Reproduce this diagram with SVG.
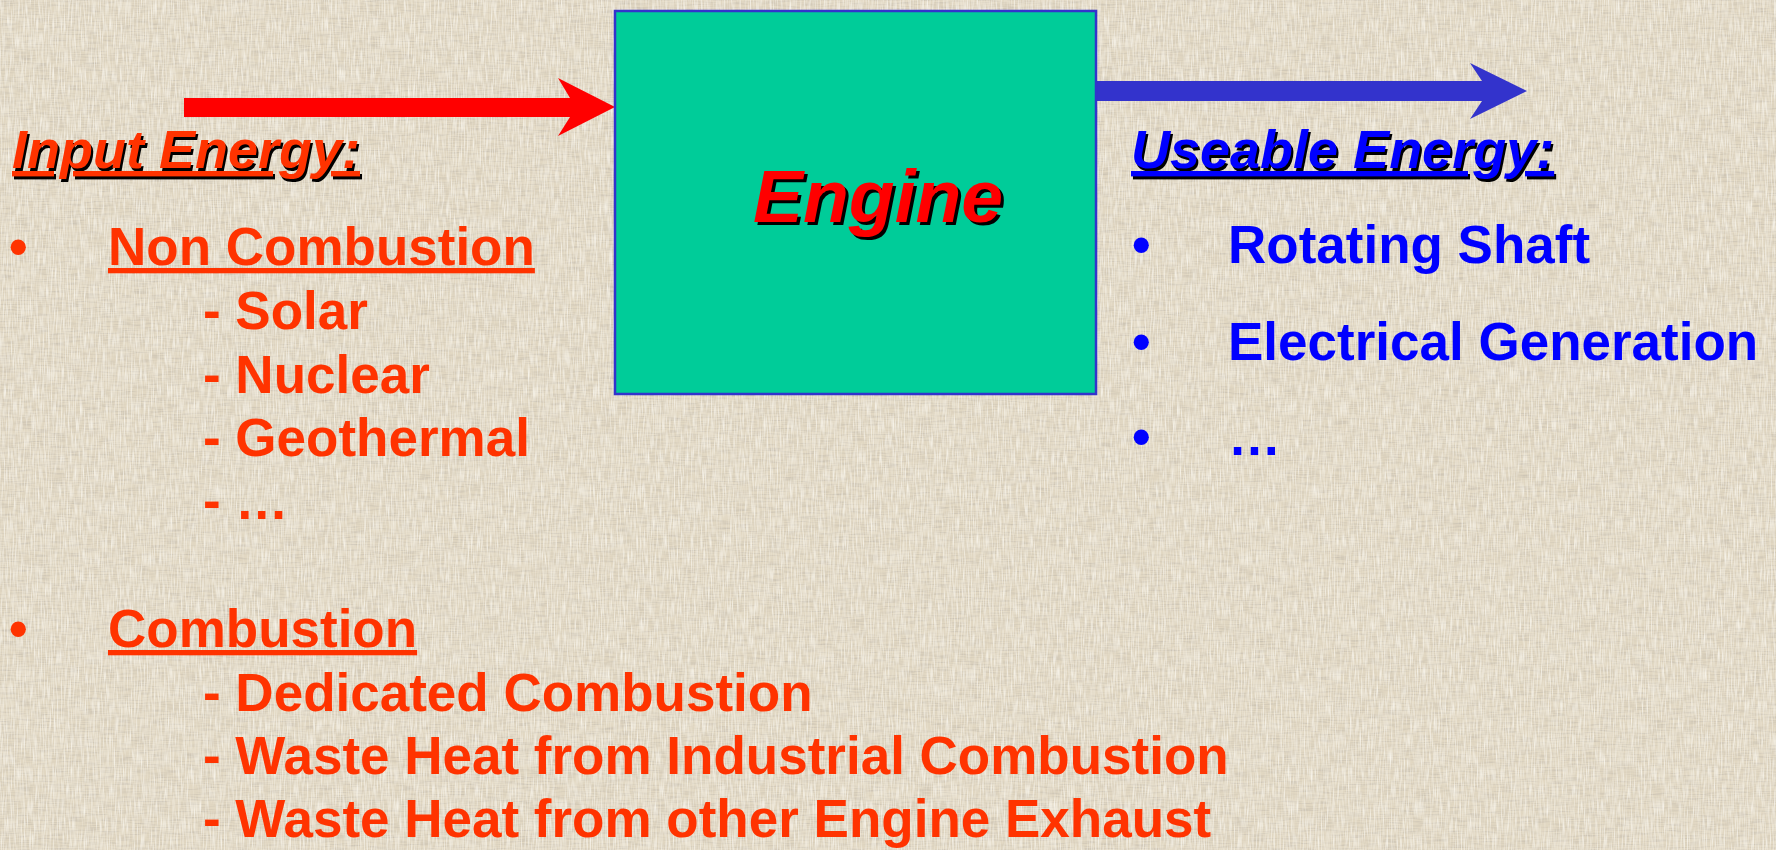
<svg xmlns="http://www.w3.org/2000/svg" width="1776" height="850" viewBox="0 0 1776 850">
  <defs>
    <style>
      text { font-family: "Liberation Sans", Arial, sans-serif; font-weight: bold; }
      .body { font-size: 53px; }
      .head { font-size: 54px; font-style: italic; text-decoration: underline; }
      .red { fill: #FF3300; }
      .blue { fill: #0000FF; }
      .shadow { fill: #000000; }
    </style>
    <!-- woven canvas texture: short horizontal and vertical threads -->
    <filter id="weaveH" x="0" y="0" width="100%" height="100%">
      <feTurbulence type="fractalNoise" baseFrequency="0.06 0.7" numOctaves="2" seed="3"/>
      <feColorMatrix type="matrix" values="0 0 0 0 0.55  0 0 0 0 0.50  0 0 0 0 0.42  0 0 0 1.5 -0.62"/>
    </filter>
    <filter id="weaveV" x="0" y="0" width="100%" height="100%">
      <feTurbulence type="fractalNoise" baseFrequency="0.7 0.06" numOctaves="2" seed="7"/>
      <feColorMatrix type="matrix" values="0 0 0 0 0.97  0 0 0 0 0.95  0 0 0 0 0.89  0 0 0 1.5 -0.55"/>
    </filter>
  </defs>

  <!-- background -->
  <rect width="1776" height="850" fill="#E1D7C2"/>
  <rect width="1776" height="850" filter="url(#weaveH)"/>
  <rect width="1776" height="850" filter="url(#weaveV)"/>

  <!-- connectors -->
  <g id="connectors">
    <polygon id="input-arrow" fill="#FF0000" points="184,98 570,98 558,78 615,107 558,136 570,117 184,117"/>
    <polygon id="output-arrow" fill="#3333CC" points="1096,81 1482,81 1470,63 1527,91 1470,119 1482,101 1096,101"/>
  </g>

  <!-- engine block -->
  <g id="engine">
    <rect x="615" y="11" width="481" height="383" fill="#00CC99" stroke="#3333CC" stroke-width="2.5"/>
    <text x="756" y="225" font-size="75" font-style="italic" class="shadow">Engine</text>
    <text x="753" y="222" font-size="75" font-style="italic" fill="#FF0000">Engine</text>
  </g>

  <!-- input energy sources -->
  <g id="input-energy">
    <text x="14" y="171" class="head shadow">Input Energy:</text>
    <text x="12" y="168" class="head red">Input Energy:</text>

    <text x="9" y="265" class="body red">•</text>
    <text x="108" y="265" class="body red" text-decoration="underline">Non Combustion</text>
    <text x="203" y="329" class="body red">- Solar</text>
    <text x="203" y="393" class="body red">- Nuclear</text>
    <text x="203" y="456" class="body red">- Geothermal</text>
    <text x="203" y="519" class="body red">- …</text>

    <text x="9" y="647" class="body red">•</text>
    <text x="108" y="647" class="body red" text-decoration="underline">Combustion</text>
    <text x="203" y="711" class="body red">- Dedicated Combustion</text>
    <text x="203" y="774" class="body red">- Waste Heat from Industrial Combustion</text>
    <text x="203" y="837" class="body red">- Waste Heat from other Engine Exhaust</text>
  </g>

  <!-- useable energy outputs -->
  <g id="useable-energy">
    <text x="1133" y="171" class="head shadow">Useable Energy:</text>
    <text x="1131" y="168" class="head blue">Useable Energy:</text>

    <text x="1132" y="263" class="body blue">•</text>
    <text x="1228" y="263" class="body blue">Rotating Shaft</text>
    <text x="1132" y="360" class="body blue">•</text>
    <text x="1228" y="360" class="body blue">Electrical Generation</text>
    <text x="1132" y="455" class="body blue">•</text>
    <text x="1228" y="455" class="body blue">…</text>
  </g>
</svg>
